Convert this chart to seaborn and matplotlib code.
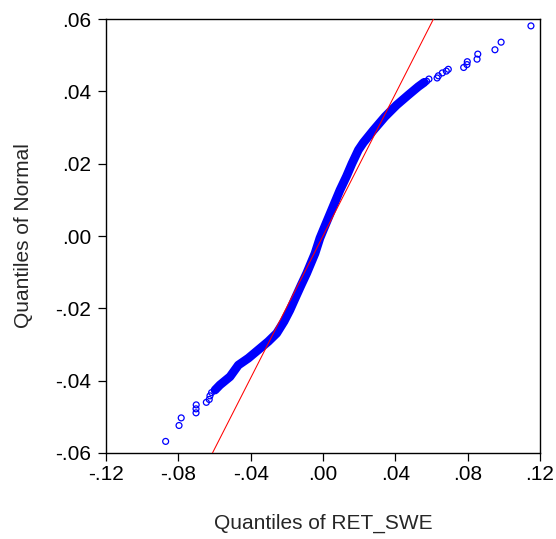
import numpy as np
import matplotlib.pyplot as plt
import matplotlib.ticker as ticker
import seaborn as sns

# ============================================================
# DATA
# ============================================================
# sparse tail points (open circles)
tail_x = [0.1150, 0.0985, 0.0951, 0.0856, 0.0852, 0.0798, 0.0796, 0.0778,
          0.0693, 0.0682, 0.0660, 0.0638, 0.0631, 0.0586, 0.0573,
          -0.0870, -0.0796, -0.0784, -0.0701, -0.0702, -0.0702, -0.0645,
          -0.0629, -0.0625, -0.0616, -0.0597]
tail_y = [0.0581, 0.0536, 0.0515, 0.0503, 0.0489, 0.0482, 0.0474, 0.0466,
          0.0461, 0.0456, 0.0451, 0.0443, 0.0437, 0.0434, 0.0428,
          -0.0568, -0.0524, -0.0503, -0.0467, -0.0478, -0.0489, -0.0460,
          -0.0452, -0.0442, -0.0433, -0.0426]

# dense middle of the Q-Q curve (thousands of overlapping circles)
band_x = [-0.0597, -0.0570, -0.0514, -0.0468, -0.0413, -0.0358, -0.0303,
          -0.0256, -0.0215, -0.0183, -0.0150, -0.0120, -0.0090, -0.0044,
          -0.0017, 0.0002, 0.0048, 0.0094, 0.0130, 0.0160, 0.0196, 0.0223,
          0.0278, 0.0343, 0.0407, 0.0472, 0.0527, 0.0560]
band_y = [-0.0426, -0.0412, -0.0389, -0.0357, -0.0338, -0.0315, -0.0292,
          -0.0269, -0.0236, -0.0205, -0.0168, -0.0135, -0.0103, -0.0048,
          -0.0006, 0.0017, 0.0072, 0.0127, 0.0165, 0.0200, 0.0238, 0.0258,
          0.0292, 0.0330, 0.0362, 0.0390, 0.0413, 0.0425]

# reference line of the normal fit
LINE_SLOPE = 0.982
LINE_INTERCEPT = 0.0

XLIM = (-0.12, 0.12)
YLIM = (-0.06, 0.06)
X_TICKS = [-0.12, -0.08, -0.04, 0.00, 0.04, 0.08, 0.12]
Y_TICKS = [-0.06, -0.04, -0.02, 0.00, 0.02, 0.04, 0.06]

# ============================================================
# PLOT
# ============================================================
sns.set_style("ticks")
plt.rcParams["font.family"] = ["Liberation Sans", "DejaVu Sans"]

fig = plt.figure(figsize=(5.56, 5.39), dpi=100)
ax = fig.add_axes([0.1906, 0.1596, 0.7806, 0.8051])

sns.lineplot(x=band_x, y=band_y, sort=False, estimator=None, color="blue",
             linewidth=6.3, solid_capstyle="round", ax=ax, zorder=2)
sns.scatterplot(x=band_x + tail_x, y=band_y + tail_y, marker="o", s=18,
                facecolor="none", edgecolor="blue", linewidth=0.9, ax=ax,
                zorder=3)

line_x = np.array(XLIM)
ax.plot(line_x, LINE_SLOPE * line_x + LINE_INTERCEPT, color="red",
        linewidth=0.75, zorder=4)

ax.set_xlim(*XLIM)
ax.set_ylim(*YLIM)
ax.set_xticks(X_TICKS)
ax.set_yticks(Y_TICKS)

fmt = ticker.FuncFormatter(lambda v, p: f"{v:.2f}".replace("0.", "."))
ax.xaxis.set_major_formatter(fmt)
ax.yaxis.set_major_formatter(fmt)

ax.tick_params(direction="out", length=6, width=0.9, labelsize=15,
               colors="black")
ax.tick_params(axis="x", pad=3)
ax.tick_params(axis="y", pad=4.5)
for s in ax.spines.values():
    s.set_visible(True)
    s.set_color("black")
    s.set_linewidth(1.0)

ax.set_xlabel("Quantiles of RET_SWE", fontsize=15, labelpad=21)
ax.set_ylabel("Quantiles of Normal", fontsize=15, labelpad=16)

plt.savefig("out.png", dpi=100)
plt.close()
